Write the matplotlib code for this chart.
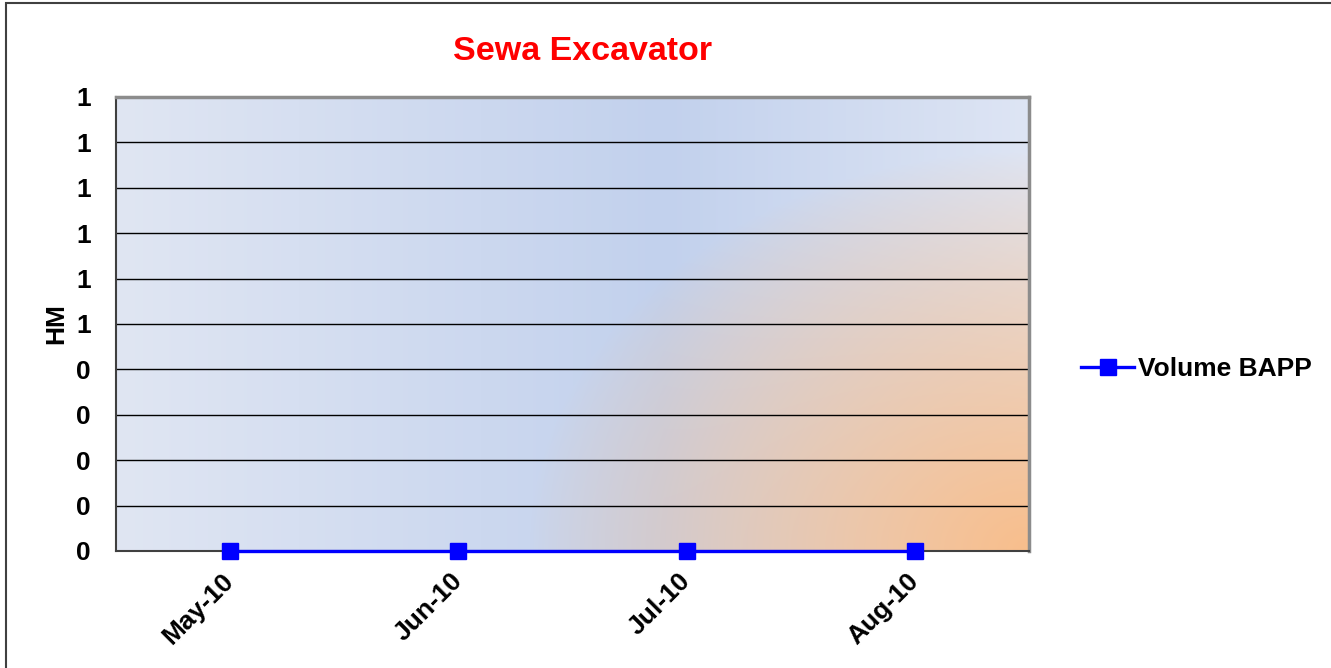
import numpy as np
import matplotlib.pyplot as plt
from matplotlib.patches import Rectangle
from matplotlib.ticker import FuncFormatter, MultipleLocator

plt.rcParams['font.family'] = ['Liberation Sans', 'DejaVu Sans']
plt.rcParams['font.weight'] = 'bold'

months = ['May-10', 'Jun-10', 'Jul-10', 'Aug-10']
volume_bapp = [0, 0, 0, 0]

W, H = 1331, 668
fig = plt.figure(figsize=(W / 100, H / 100), dpi=100)
ax = fig.add_axes([116 / W, 1 - 551 / H, (1029 - 116) / W, (551 - 97) / H])

# Excel-like background: blue linear gradient + orange glow from bottom-right corner
pw, ph = 913, 454
px = np.linspace(0, pw, pw)[None, :]
py = np.linspace(ph, 0, ph)[:, None]
u = px / pw
left_c = np.array([224, 230, 243]) / 255
mid_c = np.array([194, 209, 237]) / 255
right_c = np.array([222, 229, 244]) / 255
t1 = np.clip(u / 0.6, 0, 1)[..., None]
t2 = np.clip((u - 0.6) / 0.4, 0, 1)[..., None]
base = np.where(u[..., None] <= 0.6, left_c + (mid_c - left_c) * t1, mid_c + (right_c - mid_c) * t2)
base = np.broadcast_to(base, (ph, pw, 3)).copy()
d = np.sqrt((pw - px) ** 2 + (py * 1.25) ** 2)
w = np.clip(1 - d / 500, 0, 1) ** 0.85
orange = np.array([248, 190, 140]) / 255
img = base * (1 - w[..., None]) + orange * w[..., None]
ax.imshow(img, extent=(0, 1, 0, 1), transform=ax.transAxes, aspect='auto', zorder=0)

x = np.arange(len(months))
ax.plot(x, volume_bapp, color='#0000FF', lw=2.4, marker='s', markersize=11,
        label='Volume BAPP', zorder=3, clip_on=False)

ax.set_xlim(-0.5, len(months) - 0.5)
ax.set_ylim(0, 1)
ax.yaxis.set_major_locator(MultipleLocator(0.1))
ax.yaxis.set_major_formatter(FuncFormatter(lambda val, pos: str(int(np.floor(val + 0.5 + 1e-9)))))
ax.grid(axis='y', color='black', lw=1)
ax.set_xticks(x)
ax.set_xticklabels(months, rotation=45, ha='right', va='center', rotation_mode='anchor')
ax.tick_params(axis='y', length=0, pad=18, labelsize=19)
ax.tick_params(axis='x', length=0, pad=19, labelsize=19)
for s in ['top', 'right']:
    ax.spines[s].set_color('#8c8c8c')
    ax.spines[s].set_linewidth(2.5)
for s in ['left', 'bottom']:
    ax.spines[s].set_color('#404040')
    ax.spines[s].set_linewidth(1.5)

ax.set_ylabel('HM', fontsize=19, fontweight='bold', labelpad=6)
fig.text(583 / W, 1 - 52 / H, 'Sewa Excavator', color='red', fontsize=24.5,
         fontweight='bold', ha='center', va='center')

fig.legend(loc='center left', bbox_to_anchor=(1068 / W, 1 - 369 / H), frameon=False,
           fontsize=19, handlelength=2.0, handletextpad=0.15, borderpad=0)

fig.patches.append(Rectangle((6 / W, -0.1), 1.2, 1.1 - 3 / H, transform=fig.transFigure,
                             fill=False, edgecolor='#404040', lw=1.5))

fig.savefig('out.png', dpi=100)
